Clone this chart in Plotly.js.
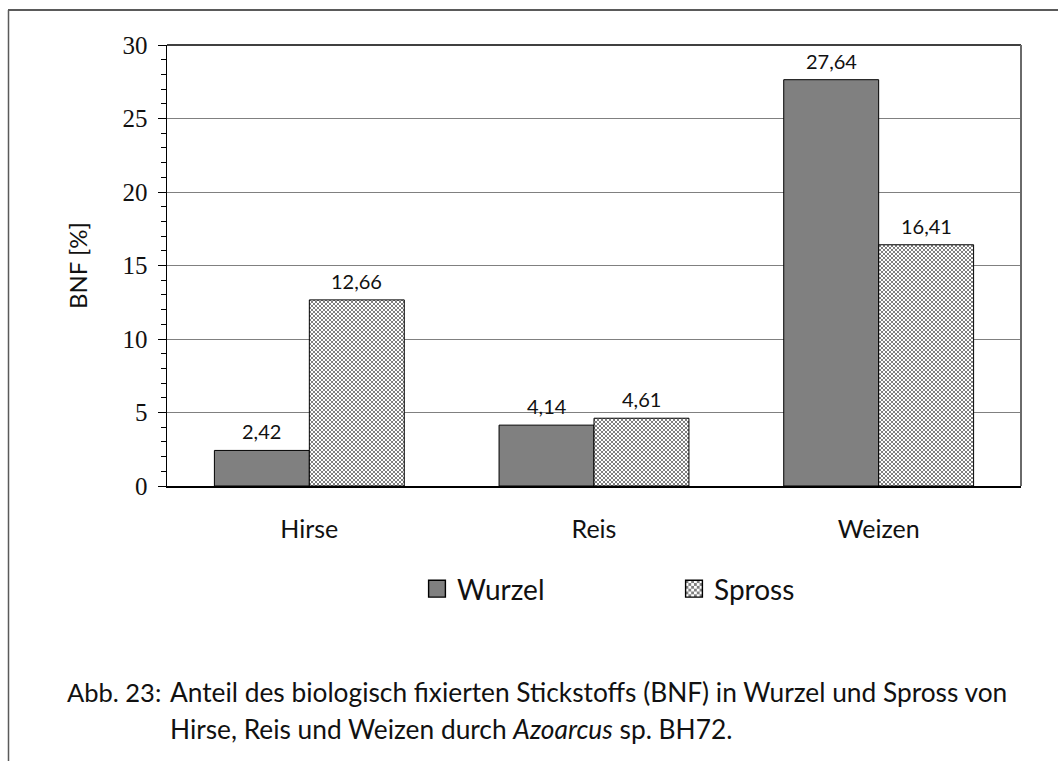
<!DOCTYPE html>
<html>
<head>
<meta charset="utf-8">
<script src="https://cdn.plot.ly/plotly-3.0.1.min.js"></script>
<style>html,body{margin:0;padding:0;background:#fff;}</style>
</head>
<body>
<div id="chart" style="width:1058px;height:761px;"></div>
<script>
// ---- data ----
const categories = ["Hirse", "Reis", "Weizen"];
const wurzel = [2.42, 4.14, 27.64];
const spross = [12.66, 4.61, 16.41];
const seriesNames = ["Wurzel", "Spross"];
const yTicks = [0, 5, 10, 15, 20, 25, 30];
const yTitle = "BNF [%]";
const captionLabel = "Abb. 23:";
const captionLine1 = "Anteil des biologisch fixierten Stickstoffs (BNF) in Wurzel und Spross von";
const captionLine2 = "Hirse, Reis und Weizen durch <i>Azoarcus</i> sp. BH72.";

// ---- geometry helpers (pixel -> paper) ----
const W = 1058, H = 761;
const M = {l: 167, r: 37, t: 45, b: 275};
const PW = W - M.l - M.r, PH = H - M.t - M.b;
const px2x = px => (px - M.l) / PW;
const px2y = py => (H - M.b - py) / PH;

const SANS = "Lato, 'Open Sans', sans-serif";
const SERIF = "'Liberation Serif', 'DejaVu Serif', serif";
const BARGAP = 0.333;
const barW = (1 - BARGAP) / 2;

const traces = [
  {
    type: "bar", name: seriesNames[0], x: categories, y: wurzel,
    marker: {color: "#808080", line: {color: "#000", width: 1}}
  },
  {
    type: "bar", name: seriesNames[1], x: categories, y: spross,
    marker: {color: "#ffffff", line: {color: "#000", width: 1},
      pattern: {shape: "x", size: 3, solidity: 0.7, fgcolor: "#5e5e5e", bgcolor: "#ffffff", fillmode: "overlay"}}
  }
];

const fmt = v => v.toFixed(2).replace(".", ",");
const labelAnn = [];
[wurzel, spross].forEach((series, s) => {
  series.forEach((v, i) => {
    labelAnn.push({
      xref: "x", yref: "y", x: i + (s === 0 ? -barW / 2 : barW / 2), y: v,
      xanchor: "center", yanchor: "bottom", yshift: 5, showarrow: false,
      text: fmt(v), font: {family: SANS, size: 20, color: "#111"}
    });
  });
});

const layout = {
  width: W, height: H,
  margin: M,
  paper_bgcolor: "#fff", plot_bgcolor: "#fff",
  separators: ",.",
  barmode: "group", bargap: BARGAP, bargroupgap: 0,
  showlegend: true,
  legend: {
    orientation: "h", x: px2x(417), y: px2y(589), xanchor: "left", yanchor: "middle",
    font: {family: SANS, size: 28, color: "#111"},
    entrywidth: 212, entrywidthmode: "pixels", itemwidth: 30, traceorder: "normal"
  },
  xaxis: {
    type: "category", showline: true, linecolor: "#000", linewidth: 1.5,
    ticks: "", showgrid: false, ticklabelstandoff: 20,
    tickfont: {family: SANS, size: 25, color: "#111"}
  },
  yaxis: {
    range: [0, 30], tickvals: yTicks, ticks: "outside", ticklen: 8, tickcolor: "#000",
    showline: true, linecolor: "#000", linewidth: 1.5, ticklabelstandoff: 5,
    showgrid: true, gridcolor: "#808080", gridwidth: 1,
    minor: {dtick: 1, ticks: "outside", ticklen: 5, tickcolor: "#000", showgrid: false},
    tickfont: {family: SERIF, size: 25, color: "#111"},
    zeroline: false,
    title: {text: yTitle, font: {family: SANS, size: 24, color: "#111"}, standoff: 28}
  },
  shapes: [
    {type: "line", xref: "paper", yref: "paper", x0: 0, x1: 1, y0: 1, y1: 1, line: {color: "#000", width: 1.5}},
    {type: "line", xref: "paper", yref: "paper", x0: 1, x1: 1, y0: 0, y1: 1, line: {color: "#6a6a6a", width: 2}},
    {type: "line", xref: "paper", yref: "paper", x0: px2x(8), x1: px2x(1058), y0: px2y(10), y1: px2y(10), line: {color: "#5a5a5a", width: 2}},
    {type: "line", xref: "paper", yref: "paper", x0: px2x(8.5), x1: px2x(8.5), y0: px2y(10), y1: px2y(761), line: {color: "#5a5a5a", width: 1.5}}
  ],
  annotations: labelAnn.concat([
    {xref: "paper", yref: "paper", x: px2x(65), y: px2y(692), xanchor: "left", yanchor: "middle",
     text: captionLabel, showarrow: false, font: {family: SANS, size: 25.5, color: "#111"}},
    {xref: "paper", yref: "paper", x: px2x(168), y: px2y(692), xanchor: "left", yanchor: "middle",
     text: captionLine1, showarrow: false, font: {family: SANS, size: 26.3, color: "#111"}},
    {xref: "paper", yref: "paper", x: px2x(168), y: px2y(729), xanchor: "left", yanchor: "middle",
     text: captionLine2, showarrow: false, font: {family: SANS, size: 26.3, color: "#111"}}
  ])
};

function checkerize() {
  const NS = "http://www.w3.org/2000/svg";
  document.querySelectorAll("#chart pattern").forEach(pat => {
    pat.setAttribute("width", "4");
    pat.setAttribute("height", "4");
    pat.removeAttribute("patternTransform");
    while (pat.firstChild) pat.removeChild(pat.firstChild);
    const mk = (x, y, w, h, c) => {
      const r = document.createElementNS(NS, "rect");
      r.setAttribute("x", x); r.setAttribute("y", y);
      r.setAttribute("width", w); r.setAttribute("height", h);
      r.setAttribute("fill", c);
      pat.appendChild(r);
    };
    mk(0, 0, 4, 4, "#ffffff");
    mk(0, 0, 2, 2, "#808080");
    mk(2, 2, 2, 2, "#808080");
  });
}

Plotly.newPlot("chart", traces, layout, {displayModeBar: false, staticPlot: true}).then(() => {
  document.querySelectorAll(".legendpoints path").forEach(p => {
    const t = p.getAttribute("transform") || "";
    p.setAttribute("transform", t + " scale(1.4)");
  });
  checkerize();
});
</script>
</body>
</html>
